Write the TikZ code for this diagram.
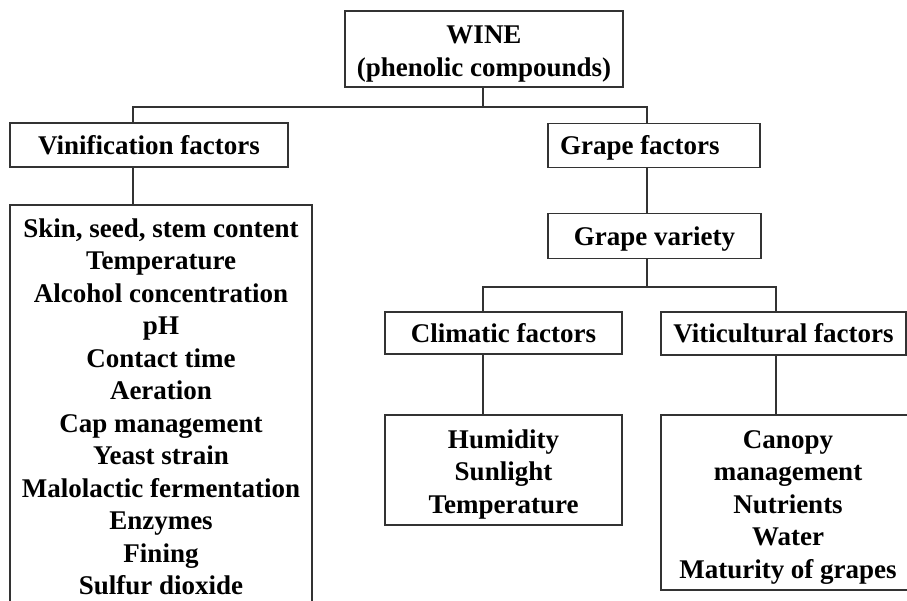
\documentclass[tikz,border=0pt]{standalone}
\usepackage{fontspec}
\setmainfont{Liberation Serif}
\newcommand{\toppad}{\rule{0pt}{27.5pt}}
\newcommand{\onepad}{\rule{0pt}{24.5pt}}

\begin{document}
\begin{tikzpicture}[x=1pt,y=-1pt]
\useasboundingbox (0,0) rectangle (907,600);
\clip (0,0) rectangle (907,600);

\begin{scope}[every node/.style={rectangle,draw=black!80,line width=1.6pt,inner sep=0pt,
              align=center,font=\bfseries\fontsize{27}{32.5}\selectfont}]
    \node[minimum width=278,minimum height=76] (wine) at (484,49) {\rule{0pt}{28pt}WINE\\(phenolic compounds)};
    \node[minimum width=278,minimum height=44] (vin) at (149,145) {Vinification factors};
    \node[minimum width=212,minimum height=44] (grape) at (654,145.5) {\makebox[188pt][l]{\onepad Grape factors}};
    \node[minimum width=213,minimum height=45] (variety) at (654.5,236) {\onepad Grape variety};
    \node[minimum width=237,minimum height=42] (clim) at (503.5,333) {Climatic factors};
    \node[minimum width=245,minimum height=43] (viti) at (783.5,333.5) {Viticultural factors};
    \node[minimum width=302,anchor=north,inner ysep=13.5pt] (list) at (161,204)
        {Skin, seed, stem content\\Temperature\\Alcohol concentration\\pH\\Contact time\\Aeration\\
         Cap management\\Yeast strain\\Malolactic fermentation\\Enzymes\\Fining\\Sulfur dioxide};
    \node[minimum width=237,minimum height=110] (weather) at (503.5,470) {\toppad Humidity\\Sunlight\\Temperature};
    \node[minimum width=254,minimum height=175] (vineyard) at (788,502.5)
        {\toppad Canopy\\management\\Nutrients\\Water\\Maturity of grapes};
\end{scope}

% columns and buses of the tree
\coordinate (colA) at (133,0);
\coordinate (colB) at (483,0);
\coordinate (colC) at (647,0);
\coordinate (colD) at (776,0);
\coordinate (busA) at (0,107);
\coordinate (busB) at (0,287);

\begin{scope}[every path/.style={draw=black!80,line width=1.6pt}]
    \draw (wine.south -| colB) -- (colB |- busA) -| (vin.north -| colA);
    \draw (colB |- busA) -| (grape.north -| colC);
    \draw (vin.south -| colA) -- (list.north -| colA);
    \draw (grape.south -| colC) -- (variety.north -| colC);
    \draw (variety.south -| colC) -- (colC |- busB);
    \draw (clim.north -| colB) |- (busB -| colD) -- (viti.north -| colD);
    \draw (clim.south -| colB) -- (weather.north -| colB);
    \draw (viti.south -| colD) -- (vineyard.north -| colD);
\end{scope}
\end{tikzpicture}
\end{document}
